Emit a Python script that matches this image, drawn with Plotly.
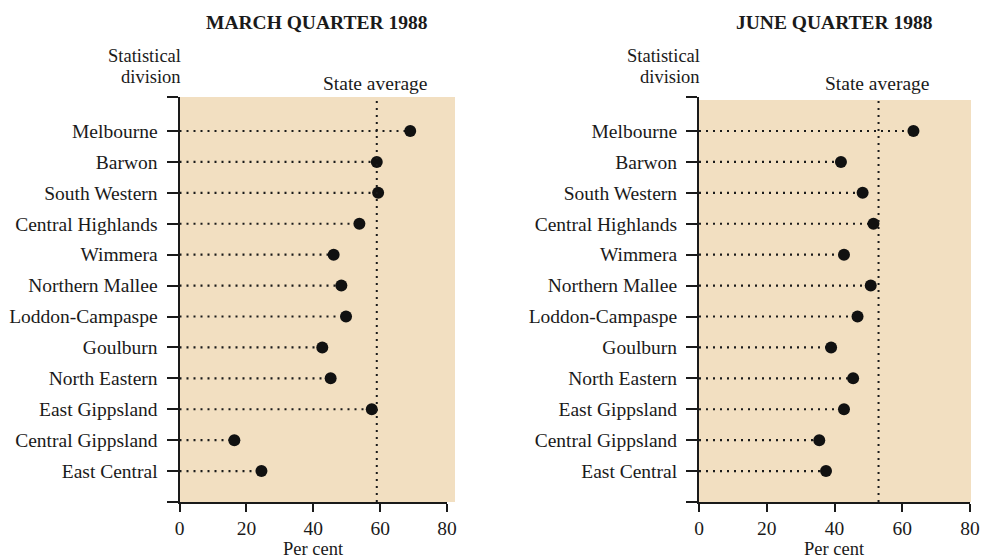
import plotly.graph_objects as go

divisions = ["Melbourne", "Barwon", "South Western", "Central Highlands", "Wimmera",
             "Northern Mallee", "Loddon-Campaspe", "Goulburn", "North Eastern",
             "East Gippsland", "Central Gippsland", "East Central"]
march_values = [69.0, 59.0, 59.4, 53.8, 46.1, 48.4, 49.8, 42.7, 45.2, 57.5, 16.4, 24.5]
june_values = [63.3, 41.9, 48.3, 51.5, 42.8, 50.7, 46.8, 39.0, 45.5, 42.8, 35.5, 37.5]
march_avg = 59.0
june_avg = 53.0
x_ticks = [0, 20, 40, 60, 80]
titles = ["MARCH QUARTER 1988", "JUNE QUARTER 1988"]

W, H = 981, 558
FONT = "Liberation Serif"
INK = "#1a1a1a"
BEIGE = "#F2DFC1"
DASH = "2px,5px"

def px(x):
    return x / W

def py(y):
    return 1 - y / H

panels = [
    dict(values=march_values, avg=march_avg, title=titles[0], x0=179.5, x1=447, bg_right=455, bg_top=97,
         title_x=316.5, sa_right=429, xaxis="x", yaxis="y"),
    dict(values=june_values, avg=june_avg, title=titles[1], x0=699, x1=970, bg_right=971, bg_top=100,
         title_x=834, sa_right=931, xaxis="x2", yaxis="y2"),
]

n = len(divisions)
ypos = list(range(n))

fig = go.Figure()
shapes = []
annotations = []
layout_axes = {}

for k, p in enumerate(panels):
    lx, ly = [], []
    for i, v in zip(ypos, p["values"]):
        lx += [0, v, None]
        ly += [i, i, None]
    fig.add_trace(go.Scatter(x=lx, y=ly, mode="lines", xaxis=p["xaxis"], yaxis=p["yaxis"],
                             line=dict(color=INK, width=2.2, dash=DASH), hoverinfo="skip",
                             showlegend=False))
    fig.add_trace(go.Scatter(x=p["values"], y=ypos, mode="markers", xaxis=p["xaxis"], yaxis=p["yaxis"],
                             marker=dict(color="#111111", size=12), showlegend=False, cliponaxis=False))
    shapes.append(dict(type="rect", xref="paper", yref="paper",
                       x0=px(p["x0"]), x1=px(p["bg_right"]), y0=py(502), y1=py(p["bg_top"]),
                       fillcolor=BEIGE, line=dict(width=0), layer="below"))
    shapes.append(dict(type="line", xref=p["xaxis"], yref=p["yaxis"] + " domain",
                       x0=p["avg"], x1=p["avg"], y0=0, y1=1,
                       line=dict(color=INK, width=2, dash=DASH)))
    sfx = "" if k == 0 else "2"
    layout_axes["xaxis" + sfx] = dict(
        domain=[px(p["x0"]), px(p["x1"])], range=[0, 80], anchor="y" + sfx,
        tickvals=x_ticks, ticks="outside", ticklen=8, tickwidth=2, tickcolor=INK,
        showline=True, linecolor=INK, linewidth=2, showgrid=False, zeroline=False,
        automargin=False,
        tickfont=dict(family=FONT, size=19.5, color=INK), fixedrange=True)
    layout_axes["yaxis" + sfx] = dict(
        domain=[py(502), py(97)], range=[n, -1.1], anchor="x" + sfx,
        tickvals=[-1.1] + ypos + [n], ticktext=[""] + divisions + [""],
        ticks="outside", ticklen=11, tickwidth=2, tickcolor=INK, ticklabelstandoff=5,
        showline=True, linecolor=INK, linewidth=2, showgrid=False, zeroline=False,
        automargin=False,
        tickfont=dict(family=FONT, size=19.5, color=INK), fixedrange=True)
    xmid = (p["x0"] + p["x1"]) / 2
    annotations += [
        dict(text="<b>%s</b>" % p["title"], x=px(p["title_x"]), y=py(22), xref="paper", yref="paper",
             xanchor="center", yanchor="middle", showarrow=False,
             font=dict(family=FONT, size=19.5, color=INK)),
        dict(text="Statistical", x=px(p["x0"] + 3), y=py(56), xref="paper", yref="paper",
             xanchor="right", yanchor="middle", showarrow=False,
             font=dict(family=FONT, size=18.5, color=INK)),
        dict(text="division", x=px(p["x0"] + 3), y=py(77), xref="paper", yref="paper",
             xanchor="right", yanchor="middle", showarrow=False,
             font=dict(family=FONT, size=18.5, color=INK)),
        dict(text="State average", x=px(p["sa_right"]), y=py(84), xref="paper", yref="paper",
             xanchor="right", yanchor="middle", showarrow=False,
             font=dict(family=FONT, size=19.5, color=INK)),
        dict(text="Per cent", x=px(xmid), y=py(549), xref="paper", yref="paper",
             xanchor="center", yanchor="middle", showarrow=False,
             font=dict(family=FONT, size=18.5, color=INK)),
    ]

fig.update_layout(
    width=W, height=H, margin=dict(l=0, r=0, t=0, b=0, pad=0, autoexpand=False),
    paper_bgcolor="white", plot_bgcolor="rgba(0,0,0,0)",
    shapes=shapes, annotations=annotations, showlegend=False,
    **layout_axes,
)

fig.write_html("out.html", config={"displayModeBar": False},
               post_script="document.body.style.margin='0';document.body.style.padding='0';")
